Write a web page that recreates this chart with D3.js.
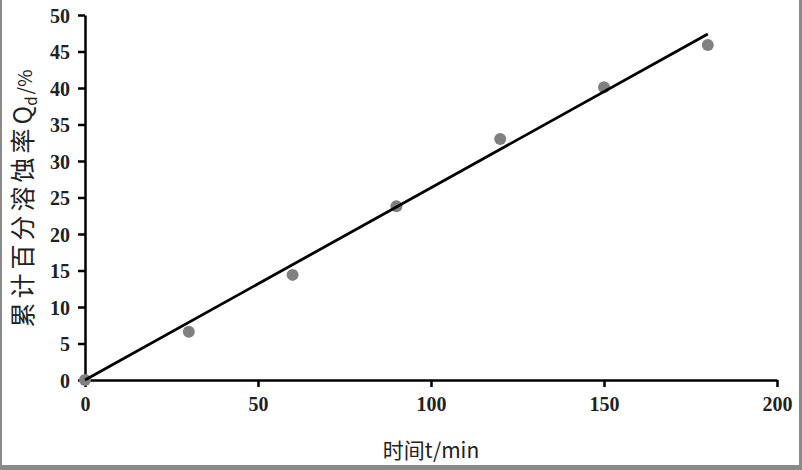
<!DOCTYPE html>
<html>
<head>
<meta charset="utf-8">
<script src="https://cdn.jsdelivr.net/npm/d3@7"></script>
<style>
  html, body { margin: 0; padding: 0; background: #fff; }
  svg { display: block; }
</style>
</head>
<body>
<div id="chart"></div>
<script>
// Data
const times = [0, 30, 60, 90, 120, 150, 180];
const dissolution = [0, 6.6, 14.4, 23.8, 33.0, 40.1, 45.9];

// fitted straight line (end points)
const fitX = [0, 180];
const fitY = [0, 47.4];

const xTicks = [0, 50, 100, 150, 200];
const yTicks = [0, 5, 10, 15, 20, 25, 30, 35, 40, 45, 50];

const width = 802;
const height = 470;
const margin = { left: 85, right: 25, top: 15, bottom: 90 };

const svg = d3.select("#chart")
  .append("svg")
  .attr("width", width)
  .attr("height", height);

// grey frame of the scanned picture
svg.append("rect").attr("x", 0).attr("y", 0).attr("width", 2).attr("height", height).attr("fill", "#8a8a8a");
svg.append("rect").attr("x", width - 3).attr("y", 0).attr("width", 3).attr("height", height).attr("fill", "#8a8a8a");
svg.append("rect").attr("x", 0).attr("y", 465).attr("width", width).attr("height", 5).attr("fill", "#8a8a8a");

const x = d3.scaleLinear()
  .domain([0, 200])
  .range([margin.left, width - margin.right]);

const y = d3.scaleLinear()
  .domain([0, 50])
  .range([height - margin.bottom, margin.top]);

// axes
const xAxis = svg.append("g")
  .attr("transform", `translate(0,${y(0)})`)
  .call(d3.axisBottom(x).tickValues(xTicks).tickSize(7).tickPadding(10).tickSizeOuter(0));

const yAxis = svg.append("g")
  .attr("transform", `translate(${x(0)},0)`)
  .call(d3.axisLeft(y).tickValues(yTicks).tickSize(7).tickPadding(8).tickSizeOuter(0));

[xAxis, yAxis].forEach(g => {
  g.select(".domain").attr("stroke", "#000").attr("stroke-width", 2.5);
  g.selectAll(".tick line").attr("stroke", "#000").attr("stroke-width", 2.5);
  g.selectAll(".tick text")
    .attr("fill", "#222")
    .style("font-family", "'Liberation Serif', 'DejaVu Serif', serif")
    .style("font-weight", "bold")
    .style("font-size", "20px");
});
yAxis.selectAll(".tick text").attr("dy", "0.35em");

// points
svg.selectAll("circle.pt")
  .data(times)
  .enter()
  .append("circle")
  .attr("class", "pt")
  .attr("cx", d => x(d))
  .attr("cy", (d, i) => y(dissolution[i]))
  .attr("r", 6)
  .attr("fill", "#808080");

// fit line
const line = d3.line()
  .x(d => x(d))
  .y((d, i) => y(fitY[i]));

svg.append("path")
  .datum(fitX)
  .attr("fill", "none")
  .attr("stroke", "#000")
  .attr("stroke-width", 2.8)
  .attr("d", line);

// axis titles
svg.append("text")
  .attr("x", x(100))
  .attr("y", 458)
  .attr("text-anchor", "middle")
  .attr("fill", "#222")
  .style("font-family", "'Noto Sans CJK SC', 'Noto Sans', sans-serif")
  .style("font-size", "21px")
  .text("时间t/min");

const yTitle = svg.append("text")
  .attr("transform", `translate(32,${(y(0) + y(50)) / 2 + 1}) rotate(-90)`)
  .attr("text-anchor", "middle")
  .attr("fill", "#222")
  .style("font-family", "'Noto Sans CJK SC', 'Noto Sans', sans-serif")
  .style("font-size", "25px");
yTitle.append("tspan").style("letter-spacing", "4px").text("累计百分溶蚀率");
yTitle.append("tspan").text("Q");
yTitle.append("tspan").attr("dy", 5).style("font-size", "15px").text("d");
yTitle.append("tspan").attr("dy", -5).attr("dx", 2).style("font-size", "19px").text("/%");
</script>
</body>
</html>
